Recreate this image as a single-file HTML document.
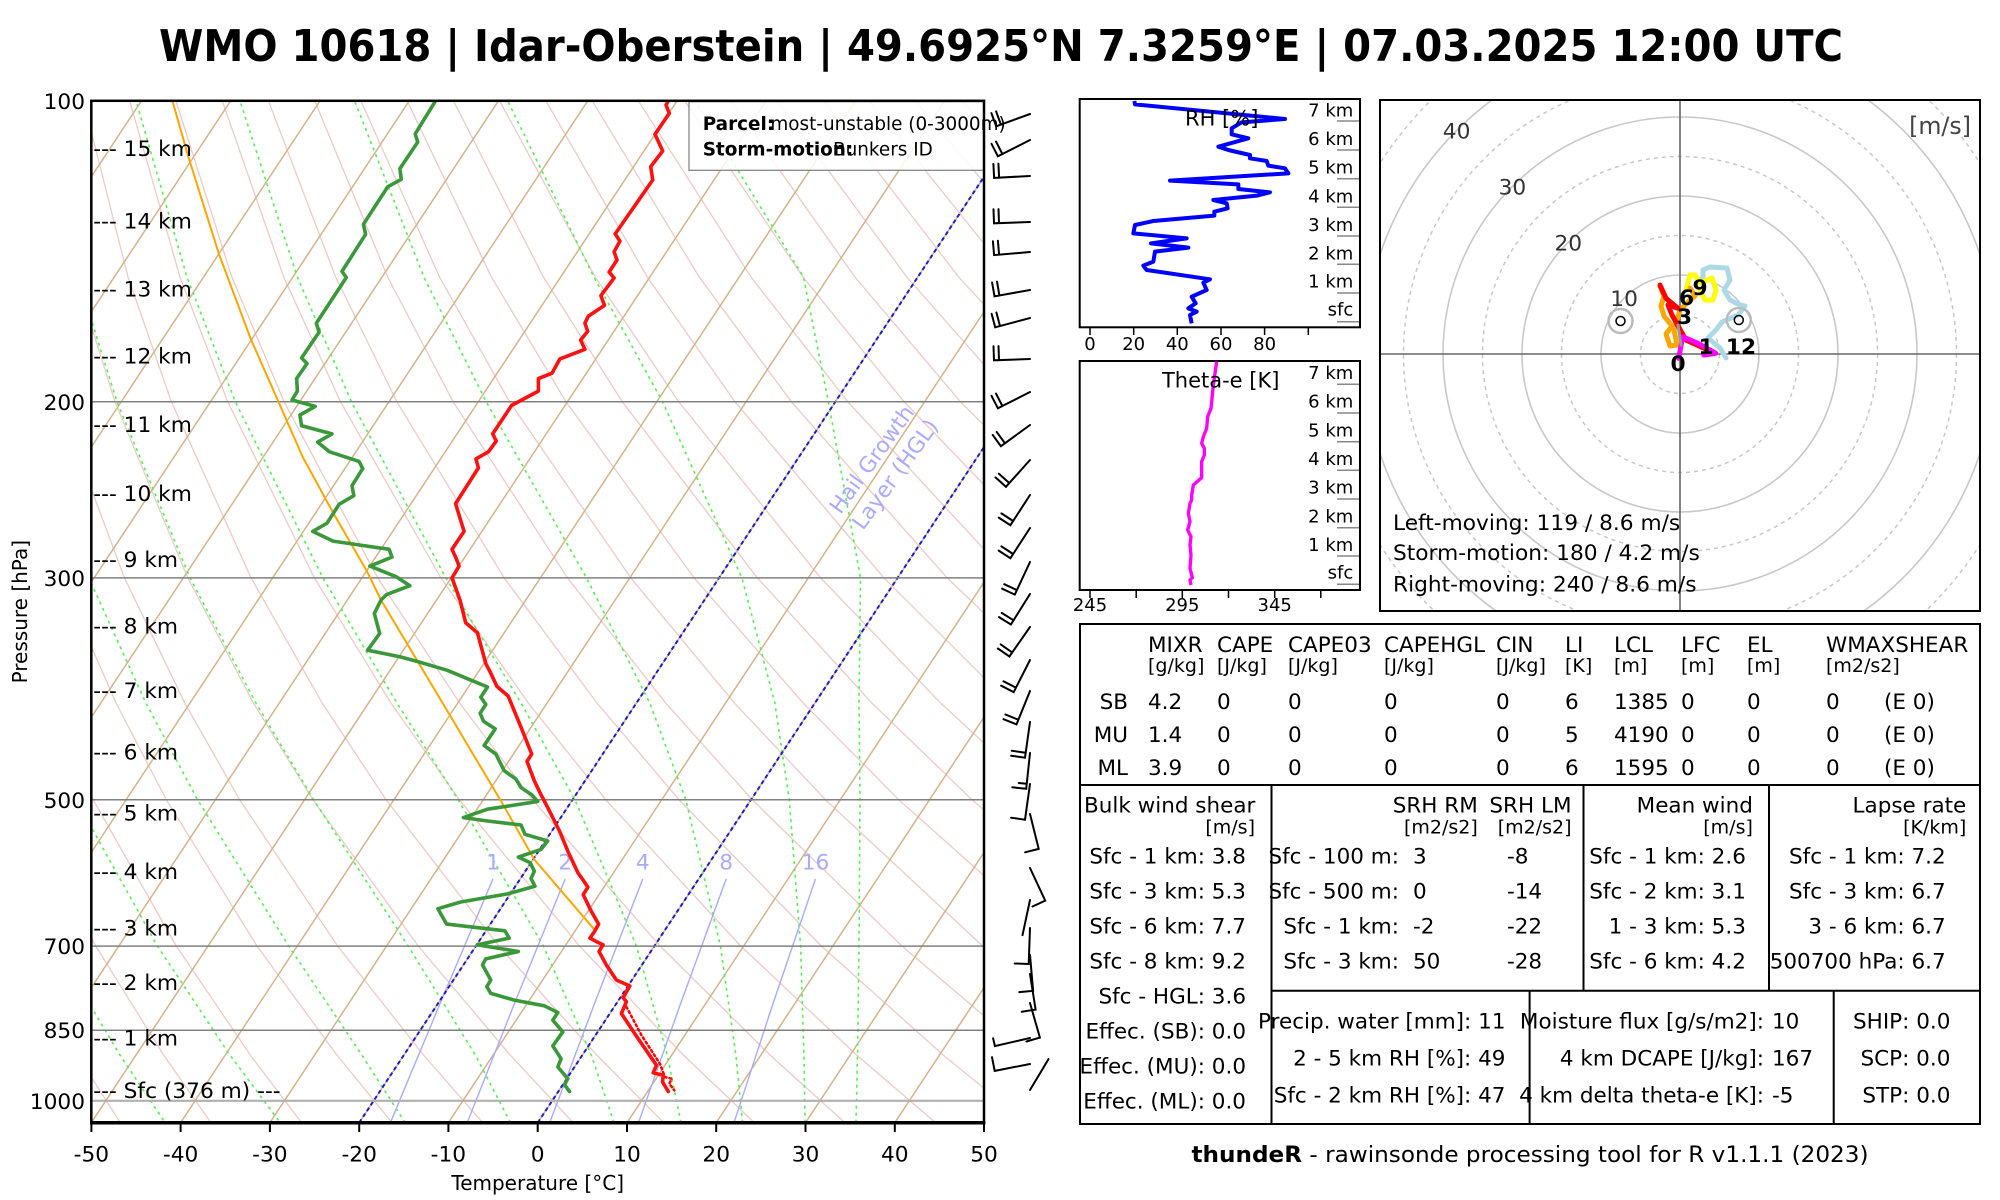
<!DOCTYPE html>
<html><head><meta charset="utf-8">
<style>
html,body{margin:0;padding:0;background:#fff;}
svg{display:block;font-family:"DejaVu Sans","Liberation Sans",sans-serif;}
</style></head><body>
<svg width="2000" height="1200" viewBox="0 0 2000 1200" xmlns="http://www.w3.org/2000/svg">
<defs>
<clipPath id="cp"><rect x="91.3" y="100.8" width="892.7" height="1021.9"/></clipPath>
<clipPath id="ch"><rect x="1380" y="100" width="600" height="511"/></clipPath>
</defs>
<rect width="2000" height="1200" fill="#fff"/>

<!-- Title -->
<text x="1001" y="61" text-anchor="middle" font-weight="bold" font-size="44" textLength="1684" lengthAdjust="spacingAndGlyphs">WMO 10618 | Idar-Oberstein | 49.6925°N 7.3259°E | 07.03.2025 12:00 UTC</text>

<!-- Skew-T background -->
<g clip-path="url(#cp)" fill="none">
<!-- dry adiabats -->
<g stroke="#eccbc6" stroke-width="1.3">
<polyline points="122.6,1126.1 77,1055"/>
<polyline points="213.3,1126.1 163.6,1055 95.7,946 20,799.8"/>
<polyline points="304.1,1126.1 250.3,1055 176.3,946 93.2,799.8 47.3,702.9"/>
<polyline points="394.9,1126.1 336.9,1055 257,946 166.4,799.8 116,702.9 61.2,577.9"/>
<polyline points="485.6,1126.1 423.5,1055 337.6,946 239.7,799.8 184.7,702.9 124.5,577.9 58.7,401.8"/>
<polyline points="576.4,1126.1 510.1,1055 418.2,946 312.9,799.8 253.4,702.9 187.8,577.9 115,401.8 76.1,276.9"/>
<polyline points="667.2,1126.1 596.7,1055 498.8,946 386.1,799.8 322.1,702.9 251.1,577.9 171.4,401.8 128,276.9 83.5,100.8"/>
<polyline points="757.9,1126.1 683.4,1055 579.4,946 459.4,799.8 390.8,702.9 314.4,577.9 227.8,401.8 179.9,276.9 129.7,100.8"/>
<polyline points="848.7,1126.1 770,1055 660.1,946 532.6,799.8 459.5,702.9 377.7,577.9 284.1,401.8 231.8,276.9 175.9,100.8"/>
<polyline points="939.5,1126.1 856.6,1055 740.7,946 605.8,799.8 528.2,702.9 440.9,577.9 340.5,401.8 283.7,276.9 222.2,100.8"/>
<polyline points="1030.2,1126.1 943.2,1055 821.3,946 679.1,799.8 596.9,702.9 504.2,577.9 396.9,401.8 335.6,276.9 268.4,100.8"/>
<polyline points="1029.9,1055 901.9,946 752.3,799.8 665.6,702.9 567.5,577.9 453.2,401.8 387.6,276.9 314.7,100.8"/>
<polyline points="1116.5,1055 982.6,946 825.5,799.8 734.4,702.9 630.8,577.9 509.6,401.8 439.5,276.9 360.9,100.8"/>
<polyline points="1063.2,946 898.8,799.8 803.1,702.9 694.1,577.9 566,401.8 491.4,276.9 407.1,100.8"/>
<polyline points="1143.8,946 972,799.8 871.8,702.9 757.4,577.9 622.3,401.8 543.3,276.9 453.4,100.8"/>
<polyline points="1045.2,799.8 940.5,702.9 820.7,577.9 678.7,401.8 595.2,276.9 499.6,100.8"/>
<polyline points="1009.2,702.9 883.9,577.9 735,401.8 647.2,276.9 545.9,100.8"/>
<polyline points="1077.9,702.9 947.2,577.9 791.4,401.8 699.1,276.9 592.1,100.8"/>
<polyline points="1010.5,577.9 847.8,401.8 751,276.9 638.3,100.8"/>
<polyline points="1073.8,577.9 904.1,401.8 802.9,276.9 684.6,100.8"/>
<polyline points="1137.1,577.9 960.5,401.8 854.8,276.9 730.8,100.8"/>
<polyline points="1016.9,401.8 906.7,276.9 777.1,100.8"/>
<polyline points="1073.2,401.8 958.6,276.9 823.3,100.8"/>
<polyline points="1129.6,401.8 1010.6,276.9 869.5,100.8"/>
<polyline points="1062.5,276.9 915.8,100.8"/>
<polyline points="1114.4,276.9 962,100.8"/>
</g>
<!-- isotherms -->
<g stroke="#d2b48c" stroke-width="1.5">
<line x1="-536.8" y1="1127.7" x2="145.3" y2="95"/>
<line x1="-447.6" y1="1127.7" x2="234.5" y2="95"/>
<line x1="-358.3" y1="1127.7" x2="323.8" y2="95"/>
<line x1="-269" y1="1127.7" x2="413.1" y2="95"/>
<line x1="-179.8" y1="1127.7" x2="502.3" y2="95"/>
<line x1="-90.5" y1="1127.7" x2="591.6" y2="95"/>
<line x1="-1.2" y1="1127.7" x2="680.9" y2="95"/>
<line x1="88" y1="1127.7" x2="770.1" y2="95"/>
<line x1="177.3" y1="1127.7" x2="859.4" y2="95"/>
<line x1="266.6" y1="1127.7" x2="948.7" y2="95"/>
<line x1="355.9" y1="1127.7" x2="1038" y2="95"/>
<line x1="445.1" y1="1127.7" x2="1127.2" y2="95"/>
<line x1="534.4" y1="1127.7" x2="1216.5" y2="95"/>
<line x1="623.7" y1="1127.7" x2="1305.8" y2="95"/>
<line x1="712.9" y1="1127.7" x2="1395" y2="95"/>
<line x1="802.2" y1="1127.7" x2="1484.3" y2="95"/>
<line x1="891.5" y1="1127.7" x2="1573.6" y2="95"/>
<line x1="980.8" y1="1127.7" x2="1662.9" y2="95"/>
</g>
<!-- moist adiabats -->
<g stroke="#55f055" stroke-width="1.6" stroke-dasharray="3,4">
<polyline points="167.5,1126.1 119.9,1055 55,946"/>
<polyline points="282.8,1126.1 229.9,1055 157.4,946 76,799.8"/>
<polyline points="405.2,1122.7 361.8,1055 288.7,946 197.6,799.8 145.8,702.9 88.8,577.9"/>
<polyline points="510.5,1122.7 475.3,1055 408.2,946 313.7,799.8 255.8,702.9 190,577.9 117,401.8 77.9,276.9"/>
<polyline points="614,1122.7 591.3,1055 543.3,946 458.2,799.8 396.9,702.9 322.9,577.9 235.3,401.8 186.9,276.9 136,100.8"/>
<polyline points="681,1122.7 667.2,1055 636.4,946 575,799.8 520.9,702.9 445.9,577.9 351.4,401.8 297.3,276.9 239.9,100.8"/>
<polyline points="742.6,1122.7 735.9,1055 720.4,946 685.8,799.8 649.7,702.9 586.5,577.9 486.2,401.8 423.8,276.9 354.6,100.8"/>
<polyline points="805.1,1122.7 803.9,1055 800.6,946 789.3,799.8 774.8,702.9 741.9,577.9 662.6,401.8 593.8,276.9 507.6,100.8"/>
<polyline points="856,1122.7 857.5,1055 859,946 860,799.8 859,702.9 860.5,577.9 828.4,401.8 803.4,276.9 695.3,100.8"/>
</g>
<!-- mixing ratio lines -->
<g stroke="#aaaaff" stroke-width="1.4">
<polyline points="390.4,1122.7 439.9,1003.9 493,878.9"/>
<polyline points="467.2,1122.7 514.3,1003.9 565.2,878.9"/>
<polyline points="549.7,1122.7 594.4,1003.9 642.8,878.9"/>
<polyline points="638.5,1122.7 680.5,1003.9 726.2,878.9"/>
<polyline points="734,1122.7 772.9,1003.9 815.5,878.9"/>
</g>
<!-- 0 and -20 isotherms -->
<g stroke="#1a1ad0" stroke-width="2" stroke-dasharray="4,3">
<line x1="537.7" y1="1122.7" x2="1212.7" y2="100.8"/>
<line x1="359.2" y1="1122.7" x2="1034.2" y2="100.8"/>
</g>
</g>
<g fill="#aaaaff" font-size="21.7" text-anchor="middle">
<text x="493" y="869.5">1</text><text x="565.2" y="869.5">2</text><text x="642.8" y="869.5">4</text><text x="726.2" y="869.5">8</text><text x="815.5" y="869.5">16</text>
</g>

<!-- pressure lines -->
<g stroke="#808080" stroke-width="1.5">
<line x1="91.3" y1="401.8" x2="984" y2="401.8"/>
<line x1="91.3" y1="577.9" x2="984" y2="577.9"/>
<line x1="91.3" y1="799.8" x2="984" y2="799.8"/>
<line x1="91.3" y1="946.1" x2="984" y2="946.1"/>
<line x1="91.3" y1="1030.2" x2="984" y2="1030.2"/>
<line x1="91.3" y1="1100.8" x2="984" y2="1100.8" stroke="#b0b0b0" stroke-width="2.2"/>
</g>

<!-- Hail growth layer label -->
<g fill="#aaaaff" font-size="21.7" text-anchor="middle">
<text transform="translate(877.8,463.7) rotate(-54)">Hail Growth</text>
<text transform="translate(901.1,478.7) rotate(-54)">Layer (HGL)</text>
</g>

<g clip-path="url(#cp)" fill="none" stroke-linejoin="round" stroke-linecap="round">
<polyline stroke="#ffa500" stroke-width="2" points="594.6,929.8 534.3,859.5 500.9,800.9 449,713.8 381,600 367,571.4 332,510.7 302.7,457 277.7,400 250.9,339.3 218.8,253.6 188.4,157 172.4,100.8"/>
<polyline stroke="#3a983a" stroke-width="3.6" points="435.6,100.8 415.2,133.9 417.7,142.1 399.9,168.6 401.3,179.3 387.7,186.8 363.4,224.3 365.6,234.3 342,271.4 346.3,277.5 316.3,323.2 319.1,332.1 301.6,357.9 307,363.6 296.6,378.6 297.4,391.1 292,400 315.2,406.4 299.9,415 301.6,425.7 332,433.9 317.7,442.1 329.5,451.8 359.1,461.4 362.7,468.6 352,485.7 353.8,495.7 339.1,504.3 327,523.2 312.7,531.4 333.1,541.1 389.1,549.3 392,557.1 369.9,566.1 396.3,576.8 409.9,585.7 386.6,594.6 381,600 374.3,613.4 379.7,633.5 367.6,650.2 400.4,656.9 418.8,661.9 447.3,670.3 467.4,678.7 487.5,687 480.8,697.1 485.8,704.5 480.1,713.2 483.5,721.2 495.2,728.9 484.1,745.6 495.8,754 504.2,770.7 515.9,779.1 521,787.5 531.7,794.8 537.7,801.5 487.5,809.2 463.4,817.6 487.5,821 521,825 525,834.3 547.7,841 541,849.4 518.3,857.1 530.3,862.8 534.3,871.2 531,878.5 535,886.2 507.6,893.9 460.7,902 437.9,908.7 446.6,924.1 504.9,930.8 509.2,938.1 477.4,944.8 518.3,951.5 485.8,958.9 482.5,964.9 490.8,980 486.8,986.7 490.8,993.4 514.3,1000.1 544.4,1005.8 557.8,1012.5 552.8,1020.2 562.8,1031.9 552.8,1045.9 561.1,1058.7 557.8,1067 567.8,1078.7 564.5,1084.8 569.5,1091.5"/>
<polyline stroke="#ff0000" stroke-width="2.5" stroke-dasharray="2,3" points="626.4,1006.8 641.5,1035.2 659.9,1063.7 664.9,1077 671.6,1078.7 669.3,1083.8 674.3,1090.4"/>
<polyline stroke="#ff1111" stroke-width="3.6" points="668.3,100.8 666,105 669.3,113.3 655,134.3 662.7,151 650.7,166.7 652.7,180 615.2,233.9 619.9,241.1 614.1,251.8 617,260 609.1,272.1 614.1,277.9 600.9,295.7 604.5,305.4 588.4,316.1 584.9,323.2 587.7,331.4 580.6,340 584.9,349.3 559.9,358.9 552,373.2 538.4,378.6 538.4,391.1 511.6,405.4 492.7,433.9 496.3,441.1 488.4,451.8 475.9,458.9 478.4,467.9 455.6,503.6 459.9,517.9 464.1,531.4 452,549.3 456.4,558.9 459.1,566.1 452,577.9 460,600 465.7,622.8 477.4,632.8 485.8,663.6 490.2,672 496.9,686.4 508.2,696.1 521,727.2 531.7,754 527,761.4 534.3,780.8 540.4,793.5 547.7,807.6 559.5,831 567.8,851.1 577.9,872.8 583.9,881.2 587.9,887.2 583.2,894.6 591.3,911.3 598.6,924.1 594.6,931.4 589.9,938.1 597.3,942.1 603,944.8 599,951.5 606.3,964.9 616.4,980 629.8,986 623.1,997.7 626.4,1001.7 621.4,1013.5 638.1,1038.6 656.5,1065.3 653.2,1072.7 663.2,1075.4 662.6,1082.1 668.3,1091.5"/>
</g>

<!-- legend box -->
<rect x="689" y="101.7" width="295" height="68.6" fill="#fff" fill-opacity="0.85" stroke="#888" stroke-width="1.3"/>
<g font-size="18.4">
<text x="702.7" y="130" font-weight="bold">Parcel:</text>
<text x="770.4" y="130">most-unstable (0-3000m)</text>
<text x="702.7" y="155.7" font-weight="bold">Storm-motion:</text>
<text x="833" y="155.7">Bunkers ID</text>
</g>

<!-- plot frame -->
<rect x="91.3" y="100.8" width="892.7" height="1021.9" fill="none" stroke="#000" stroke-width="2.5"/>
<line x1="90" y1="1122.7" x2="985.3" y2="1122.7" stroke="#000" stroke-width="3.5"/>
<g stroke="#000" stroke-width="2">
<line x1="91.4" y1="1122.7" x2="91.4" y2="1132"/><line x1="180.6" y1="1122.7" x2="180.6" y2="1132"/><line x1="269.9" y1="1122.7" x2="269.9" y2="1132"/><line x1="359.2" y1="1122.7" x2="359.2" y2="1132"/><line x1="448.4" y1="1122.7" x2="448.4" y2="1132"/><line x1="537.7" y1="1122.7" x2="537.7" y2="1132"/><line x1="627" y1="1122.7" x2="627" y2="1132"/><line x1="716.2" y1="1122.7" x2="716.2" y2="1132"/><line x1="805.5" y1="1122.7" x2="805.5" y2="1132"/><line x1="894.8" y1="1122.7" x2="894.8" y2="1132"/><line x1="984" y1="1122.7" x2="984" y2="1132"/>
</g>
<g font-size="21.7" text-anchor="middle">
<text x="91.4" y="1161.5">-50</text><text x="180.6" y="1161.5">-40</text><text x="269.9" y="1161.5">-30</text><text x="359.2" y="1161.5">-20</text><text x="448.4" y="1161.5">-10</text><text x="537.7" y="1161.5">0</text><text x="627" y="1161.5">10</text><text x="716.2" y="1161.5">20</text><text x="805.5" y="1161.5">30</text><text x="894.8" y="1161.5">40</text><text x="984" y="1161.5">50</text>
</g>

<!-- pressure labels -->
<g font-size="21.7" text-anchor="end">
<text x="85" y="108.8">100</text>
<text x="85" y="409.8">200</text>
<text x="85" y="585.9">300</text>
<text x="85" y="807.8">500</text>
<text x="85" y="954.1">700</text>
<text x="85" y="1038.2">850</text>
<text x="85" y="1108.8">1000</text>
</g>
<!-- km labels -->
<g font-size="21.7">
<text x="93.3" y="156.2">--- 15 km</text>
<text x="93.3" y="228.4">--- 14 km</text>
<text x="93.3" y="296.6">--- 13 km</text>
<text x="93.3" y="363.7">--- 12 km</text>
<text x="93.3" y="431.9">--- 11 km</text>
<text x="93.3" y="500.9">--- 10 km</text>
<text x="93.3" y="566.9">--- 9 km</text>
<text x="93.3" y="633.7">--- 8 km</text>
<text x="93.3" y="698">--- 7 km</text>
<text x="93.3" y="759.3">--- 6 km</text>
<text x="93.3" y="820.5">--- 5 km</text>
<text x="93.3" y="879.2">--- 4 km</text>
<text x="93.3" y="935.3">--- 3 km</text>
<text x="93.3" y="990.1">--- 2 km</text>
<text x="93.3" y="1045.3">--- 1 km</text>
<text x="93.3" y="1098">--- Sfc (376 m) ---</text>
</g>
<text x="537.7" y="1190" font-size="20" text-anchor="middle">Temperature [°C]</text>
<text transform="translate(27,611.7) rotate(-90)" font-size="20" text-anchor="middle">Pressure [hPa]</text>

<!-- wind barbs -->
<g stroke="#000" stroke-width="2" stroke-linecap="round" fill="none">
<path d="M1030 114L996.2 126.3L991.4 113.1M1000.9 124.6L996.1 111.4"/>
<path d="M1030 140L997.9 156.3L991.5 143.8M1002.4 154L996 141.6"/>
<path d="M1030 176L994.1 177.9L993.4 163.9M999.1 177.6L998.4 163.6"/>
<path d="M1030 222L994 223.3L993.5 209.3M999 223.1L998.5 209.1"/>
<path d="M1030 252L994.1 255.1L992.9 241.2M999.1 254.7L997.9 240.7"/>
<path d="M1030 290L994.5 296.3L992.1 282.5M999.4 295.4L997 281.6"/>
<path d="M1030 318L995.2 327.3L991.6 313.8M1000 326L996.4 312.5"/>
<path d="M1030 359L994 360.3L993.5 346.3M999 360.1L998.5 346.1"/>
<path d="M1030 392L997.9 408.3L991.5 395.8M1002.4 406L996 393.6"/>
<path d="M1030 425L1000.9 446.2L992.7 434.9M1004.9 443.2L996.7 431.9"/>
<path d="M1030 460L1005.9 486.8L995.5 477.4M1009.3 483L998.9 473.7"/>
<path d="M1030 495L1010.4 525.2L998.7 517.6M1013.1 521L1001.4 513.4"/>
<path d="M1030 528L1010.4 558.2L998.7 550.6M1013.1 554L1001.4 546.4"/>
<path d="M1030 562L1014.8 594.6L1002.1 588.7M1016.9 590.1L1004.2 584.2"/>
<path d="M1030 594L1010.9 624.5L999 617.1M1013.6 620.3L1001.7 612.9"/>
<path d="M1030 627L1009.4 656.5L997.9 648.5M1012.2 652.4L1000.7 644.4"/>
<path d="M1030 660L1013.7 692.1L1001.2 685.7M1015.9 687.6L1003.5 681.3"/>
<path d="M1030 691L1016.5 724.4L1003.5 719.2M1018.4 719.7L1005.4 714.5"/>
<path d="M1030 722L1025 757.7L1011.1 755.7M1025.7 752.7L1011.8 750.8"/>
<path d="M1030 753L1026.2 788.8L1012.3 787.3M1026.7 783.8L1018.8 783"/>
<path d="M1030 784L1025 819.7L1011.1 817.7"/>
<path d="M1030 814L1038.7 848.9L1025.1 852.3"/>
<path d="M1030 868L1045.2 900.6L1032.5 906.5"/>
<path d="M1030 900L1022.5 935.2"/>
<path d="M1030 928L1028.7 964L1014.7 963.5"/>
<path d="M1030 955L1033.1 990.9L1019.2 992.1"/>
<path d="M1030 974L1035.6 1009.6L1021.8 1011.8"/>
<path d="M1030 1003L1039.9 1037.6L1026.4 1041.5"/>
<path d="M1030 1038L994.9 1046.1L993.1 1038.3"/>
<path d="M1030 1064L994.7 1070.9L992 1057.2"/>
<path d="M1030 1090L1048.5 1059.1"/>
</g>

<!-- RH panel -->
<rect x="1079.7" y="99" width="280.3" height="228.3" fill="none" stroke="#000" stroke-width="2"/>
<g transform="translate(1075,95) scale(0.333333)">
<polyline fill="none" stroke="#0000ff" stroke-width="12" stroke-linejoin="round" points="178,18 180,28 630,72 500,82 470,100 470,118 520,130 430,155 460,165 525,180 525,190 575,198 580,212 630,220 640,235 285,257 490,268 490,282 585,292 545,302 415,315 455,325 458,340 418,350 418,362 235,378 180,390 175,415 335,430 228,445 340,458 240,470 235,500 205,512 215,525 405,553 385,563 395,585 350,605 362,625 340,640 365,650 345,660 350,685"/>
</g>
<text x="1221.7" y="125.7" font-size="21" text-anchor="middle">RH [%]</text>
<g font-size="18" text-anchor="end">
<text x="1353.3" y="116.7">7 km</text><text x="1353.3" y="145">6 km</text><text x="1353.3" y="173.7">5 km</text><text x="1353.3" y="202.3">4 km</text><text x="1353.3" y="231">3 km</text><text x="1353.3" y="259.3">2 km</text><text x="1353.3" y="287.7">1 km</text><text x="1353.3" y="315.7">sfc</text>
</g>
<g stroke="#888" stroke-width="1.5">
<line x1="1337" y1="121" x2="1359" y2="121"/><line x1="1337" y1="150" x2="1359" y2="150"/><line x1="1337" y1="178.7" x2="1359" y2="178.7"/><line x1="1337" y1="207.3" x2="1359" y2="207.3"/><line x1="1337" y1="236" x2="1359" y2="236"/><line x1="1337" y1="264.3" x2="1359" y2="264.3"/><line x1="1337" y1="293" x2="1359" y2="293"/><line x1="1337" y1="321.7" x2="1359" y2="321.7"/>
</g>
<g stroke="#000" stroke-width="1.5">
<line x1="1090" y1="327.3" x2="1090" y2="335"/><line x1="1133.7" y1="327.3" x2="1133.7" y2="335"/><line x1="1177.3" y1="327.3" x2="1177.3" y2="335"/><line x1="1221" y1="327.3" x2="1221" y2="335"/><line x1="1264.6" y1="327.3" x2="1264.6" y2="335"/><line x1="1308.3" y1="327.3" x2="1308.3" y2="335"/>
</g>
<g font-size="18" text-anchor="middle">
<text x="1090" y="350">0</text><text x="1133.7" y="350">20</text><text x="1177.3" y="350">40</text><text x="1221" y="350">60</text><text x="1264.6" y="350">80</text>
</g>

<!-- Theta-e panel -->
<rect x="1079.7" y="361" width="280.3" height="229" fill="none" stroke="#000" stroke-width="2"/>
<g transform="translate(1075,95) scale(0.333333)">
<polyline fill="none" stroke="#ff00ff" stroke-width="10" stroke-linejoin="round" points="425,800 415,870 408,940 398,965 395,1000 385,1025 380,1045 388,1060 388,1080 380,1100 380,1148 355,1170 350,1200 350,1215 345,1225 340,1255 345,1280 338,1305 348,1325 345,1350 348,1380 345,1420 352,1448 345,1455 348,1470"/>
</g>
<text x="1220.7" y="387.7" font-size="21" text-anchor="middle">Theta-e [K]</text>
<g font-size="18" text-anchor="end">
<text x="1353.3" y="379">7 km</text><text x="1353.3" y="407.7">6 km</text><text x="1353.3" y="436.3">5 km</text><text x="1353.3" y="465">4 km</text><text x="1353.3" y="493.7">3 km</text><text x="1353.3" y="522.3">2 km</text><text x="1353.3" y="551">1 km</text><text x="1353.3" y="578.3">sfc</text>
</g>
<g stroke="#888" stroke-width="1.5">
<line x1="1337" y1="384.3" x2="1359" y2="384.3"/><line x1="1337" y1="413" x2="1359" y2="413"/><line x1="1337" y1="441.7" x2="1359" y2="441.7"/><line x1="1337" y1="470.3" x2="1359" y2="470.3"/><line x1="1337" y1="499" x2="1359" y2="499"/><line x1="1337" y1="527.7" x2="1359" y2="527.7"/><line x1="1337" y1="556" x2="1359" y2="556"/><line x1="1337" y1="584.3" x2="1359" y2="584.3"/>
</g>
<g stroke="#000" stroke-width="1.5">
<line x1="1090" y1="590" x2="1090" y2="598"/><line x1="1136.2" y1="590" x2="1136.2" y2="598"/><line x1="1182.3" y1="590" x2="1182.3" y2="598"/><line x1="1228.5" y1="590" x2="1228.5" y2="598"/><line x1="1274.7" y1="590" x2="1274.7" y2="598"/><line x1="1320.8" y1="590" x2="1320.8" y2="598"/>
</g>
<g font-size="18" text-anchor="middle">
<text x="1090" y="611">245</text><text x="1182.3" y="611">295</text><text x="1274.7" y="611">345</text>
</g>

<!-- Hodograph -->
<g clip-path="url(#ch)" fill="none">
<g stroke="#c8c8c8" stroke-width="1.6">
<circle cx="1680" cy="354" r="79"/><circle cx="1680" cy="354" r="158"/><circle cx="1680" cy="354" r="237"/><circle cx="1680" cy="354" r="316"/><circle cx="1680" cy="354" r="395"/><circle cx="1680" cy="354" r="474"/>
</g>
<g stroke="#c8c8c8" stroke-width="1.5" stroke-dasharray="4,4">
<circle cx="1680" cy="354" r="39.5"/><circle cx="1680" cy="354" r="118.5"/><circle cx="1680" cy="354" r="197.5"/><circle cx="1680" cy="354" r="276.5"/><circle cx="1680" cy="354" r="355.5"/><circle cx="1680" cy="354" r="434.5"/>
</g>
<line x1="1680" y1="100" x2="1680" y2="611" stroke="#666" stroke-width="1.6"/>
<line x1="1380" y1="354" x2="1980" y2="354" stroke="#666" stroke-width="1.6"/>
</g>
<g font-size="21.7" fill="#333" text-anchor="middle">
<text x="1624.1" y="306.1">10</text><text x="1568.3" y="250.3">20</text><text x="1512.4" y="194.4">30</text><text x="1456.6" y="138.6">40</text>
</g>
<text x="1971" y="134" font-size="23.7" fill="#444" text-anchor="end">[m/s]</text>
<g fill="none" stroke-linejoin="round" stroke-linecap="round" stroke-width="5">
<polyline stroke="#add8e6" points="1703,282 1703,270 1710,267 1727,268 1730,280 1724,290 1730,300 1740,305 1745,306 1738,315 1722,322 1716,330 1708,338 1720,348 1726,358"/>
<polyline stroke="#ffff00" points="1686,290 1690,275 1695,275 1700,283 1712,278 1716,290 1713,300 1705,300 1700,290"/>
<polyline stroke="#ffa500" points="1660,286 1664,296 1661,306 1664,316 1672,326 1666,334 1670,346 1677,345 1674,330 1680,310 1690,300 1695,296 1690,288"/>
<polyline stroke="#ff0000" points="1707.8,350 1685.9,340 1672,315 1668,305 1678,308.3 1666,298.3 1660,285"/>
<polyline stroke="#ff00ff" points="1678.7,358.3 1682.7,336.7 1697.9,343.3 1715.8,353.3 1703.8,355"/>
<polyline stroke="#999" stroke-width="3" points="1678,325 1681,345"/>
</g>
<g fill="none">
<circle cx="1620.5" cy="321" r="12" stroke="#bbb" stroke-width="2.5"/>
<circle cx="1620.5" cy="321" r="4.5" stroke="#000" stroke-width="1.5"/>
<circle cx="1738.8" cy="320" r="12" stroke="#bbb" stroke-width="2.5"/>
<circle cx="1738.8" cy="320" r="4.5" stroke="#000" stroke-width="1.5"/>
</g>
<g font-size="21.7" font-weight="bold" text-anchor="middle">
<text x="1678" y="371">0</text><text x="1706" y="354">1</text><text x="1684.5" y="324">3</text><text x="1686.5" y="305">6</text><text x="1700" y="295">9</text><text x="1741" y="354">12</text>
</g>
<g font-size="21.7">
<text x="1393" y="530">Left-moving: 119 / 8.6 m/s</text>
<text x="1393" y="560">Storm-motion: 180 / 4.2 m/s</text>
<text x="1393" y="591.7">Right-moving: 240 / 8.6 m/s</text>
</g>
<rect x="1380" y="100" width="600" height="511" fill="none" stroke="#000" stroke-width="2"/>

<!-- Table -->
<g fill="none" stroke="#000" stroke-width="2">
<rect x="1080" y="624" width="900" height="161"/>
<rect x="1080" y="785" width="900" height="339"/>
<line x1="1271.5" y1="785" x2="1271.5" y2="1124"/>
<line x1="1583.5" y1="785" x2="1583.5" y2="990.7"/>
<line x1="1769" y1="785" x2="1769" y2="990.7"/>
<line x1="1271.5" y1="990.7" x2="1980" y2="990.7"/>
<line x1="1529.6" y1="990.7" x2="1529.6" y2="1124"/>
<line x1="1833.7" y1="990.7" x2="1833.7" y2="1124"/>
</g>
<g font-size="21.5">
<text x="1148" y="652">MIXR</text><text x="1217" y="652">CAPE</text><text x="1288" y="652">CAPE03</text><text x="1384" y="652">CAPEHGL</text><text x="1496" y="652">CIN</text><text x="1565" y="652">LI</text><text x="1614" y="652">LCL</text><text x="1681" y="652">LFC</text><text x="1747" y="652">EL</text><text x="1826" y="652">WMAXSHEAR</text>
</g>
<g font-size="19">
<text x="1148" y="672">[g/kg]</text><text x="1217" y="672">[J/kg]</text><text x="1288" y="672">[J/kg]</text><text x="1384" y="672">[J/kg]</text><text x="1496" y="672">[J/kg]</text><text x="1565" y="672">[K]</text><text x="1614" y="672">[m]</text><text x="1681" y="672">[m]</text><text x="1747" y="672">[m]</text><text x="1826" y="672">[m2/s2]</text>
</g>
<g font-size="21.5">
<text x="1128" y="709" text-anchor="end">SB</text><text x="1148" y="709">4.2</text><text x="1217" y="709">0</text><text x="1288" y="709">0</text><text x="1384" y="709">0</text><text x="1496" y="709">0</text><text x="1565" y="709">6</text><text x="1614" y="709">1385</text><text x="1681" y="709">0</text><text x="1747" y="709">0</text><text x="1826" y="709">0</text><text x="1884" y="709">(E 0)</text>
<text x="1128" y="742" text-anchor="end">MU</text><text x="1148" y="742">1.4</text><text x="1217" y="742">0</text><text x="1288" y="742">0</text><text x="1384" y="742">0</text><text x="1496" y="742">0</text><text x="1565" y="742">5</text><text x="1614" y="742">4190</text><text x="1681" y="742">0</text><text x="1747" y="742">0</text><text x="1826" y="742">0</text><text x="1884" y="742">(E 0)</text>
<text x="1128" y="775" text-anchor="end">ML</text><text x="1148" y="775">3.9</text><text x="1217" y="775">0</text><text x="1288" y="775">0</text><text x="1384" y="775">0</text><text x="1496" y="775">0</text><text x="1565" y="775">6</text><text x="1614" y="775">1595</text><text x="1681" y="775">0</text><text x="1747" y="775">0</text><text x="1826" y="775">0</text><text x="1884" y="775">(E 0)</text>
</g>
<g font-size="21.5">
<text x="1084" y="812.7">Bulk wind shear</text>
<text x="1477.8" y="812.7" text-anchor="end">SRH RM</text>
<text x="1571.5" y="812.7" text-anchor="end">SRH LM</text>
<text x="1752.9" y="812.7" text-anchor="end">Mean wind</text>
<text x="1966.3" y="812.7" text-anchor="end">Lapse rate</text>
</g>
<g font-size="19" text-anchor="end">
<text x="1255" y="833.3">[m/s]</text>
<text x="1477.8" y="833.3">[m2/s2]</text>
<text x="1571.5" y="833.3">[m2/s2]</text>
<text x="1752.9" y="833.3">[m/s]</text>
<text x="1966.3" y="833.3">[K/km]</text>
</g>
<g font-size="21.5" text-anchor="end">
<text x="1246" y="863.3">Sfc - 1 km: 3.8</text>
<text x="1246" y="898.3">Sfc - 3 km: 5.3</text>
<text x="1246" y="933.3">Sfc - 6 km: 7.7</text>
<text x="1246" y="968.3">Sfc - 8 km: 9.2</text>
<text x="1246" y="1003.3">Sfc - HGL: 3.6</text>
<text x="1246" y="1038.3">Effec. (SB): 0.0</text>
<text x="1246" y="1073.3">Effec. (MU): 0.0</text>
<text x="1246" y="1108.3">Effec. (ML): 0.0</text>
<text x="1399" y="863.3">Sfc - 100 m:</text>
<text x="1399" y="898.3">Sfc - 500 m:</text>
<text x="1399" y="933.3">Sfc - 1 km:</text>
<text x="1399" y="968.3">Sfc - 3 km:</text>
<text x="1745.9" y="863.3">Sfc - 1 km: 2.6</text>
<text x="1745.9" y="898.3">Sfc - 2 km: 3.1</text>
<text x="1745.9" y="933.3">1 - 3 km: 5.3</text>
<text x="1745.9" y="968.3">Sfc - 6 km: 4.2</text>
<text x="1945.7" y="863.3">Sfc - 1 km: 7.2</text>
<text x="1945.7" y="898.3">Sfc - 3 km: 6.7</text>
<text x="1945.7" y="933.3">3 - 6 km: 6.7</text>
<text x="1945.7" y="968.3">500700 hPa: 6.7</text>
<text x="1505.5" y="1028.3">Precip. water [mm]: 11</text>
<text x="1505.5" y="1065.7">2 - 5 km RH [%]: 49</text>
<text x="1505.5" y="1102.7">Sfc - 2 km RH [%]: 47</text>
<text x="1764" y="1028.3">Moisture flux [g/s/m2]:</text>
<text x="1764" y="1065.7">4 km DCAPE [J/kg]:</text>
<text x="1764" y="1102.7">4 km delta theta-e [K]:</text>
<text x="1950.4" y="1028.3">SHIP: 0.0</text>
<text x="1950.4" y="1065.7">SCP: 0.0</text>
<text x="1950.4" y="1102.7">STP: 0.0</text>
</g>
<g font-size="21.5">
<text x="1413" y="863.3">3</text><text x="1413" y="898.3">0</text><text x="1413" y="933.3">-2</text><text x="1413" y="968.3">50</text>
<text x="1507" y="863.3">-8</text><text x="1507" y="898.3">-14</text><text x="1507" y="933.3">-22</text><text x="1507" y="968.3">-28</text>
<text x="1772" y="1028.3">10</text><text x="1772" y="1065.7">167</text><text x="1772" y="1102.7">-5</text>
</g>

<!-- credit -->
<text x="1530" y="1162" font-size="22" text-anchor="middle" textLength="677" lengthAdjust="spacingAndGlyphs"><tspan font-weight="bold">thundeR</tspan> - rawinsonde processing tool for R v1.1.1 (2023)</text>
</svg>
</body></html>
